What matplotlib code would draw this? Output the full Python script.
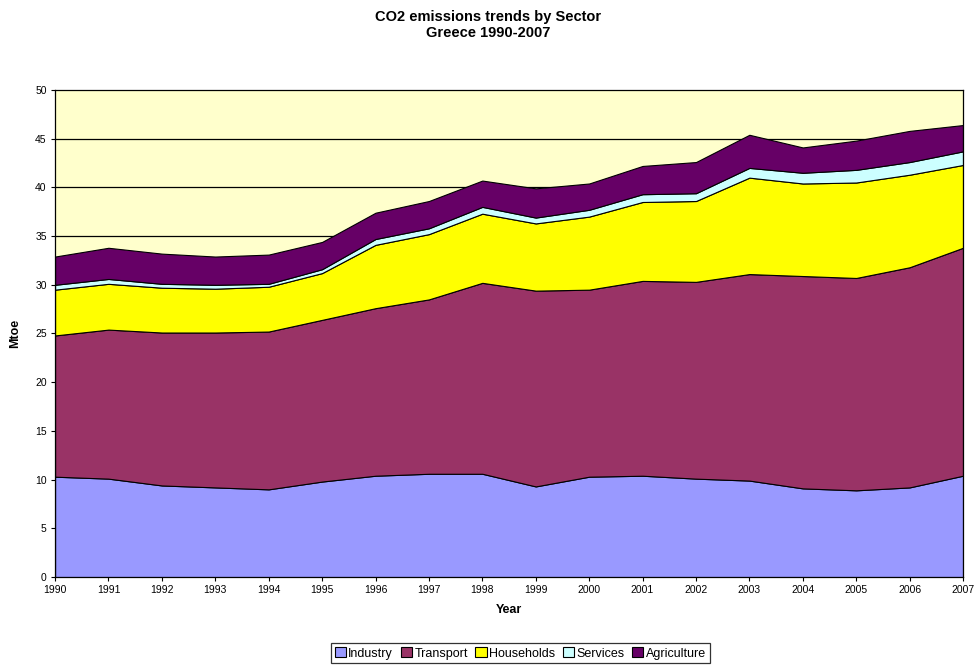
import numpy as np
import matplotlib.pyplot as plt

plt.rcParams['font.family'] = ['Liberation Sans', 'DejaVu Sans']

# Years and cumulative tops, converted to per-sector values
years = list(range(1990, 2008))
industry_top = [10.3, 10.1, 9.4, 9.2, 9.0, 9.8, 10.4, 10.6, 10.6, 9.3, 10.3, 10.4, 10.1, 9.9, 9.1, 8.9, 9.2, 10.4]
transport_top = [24.8, 25.4, 25.1, 25.1, 25.2, 26.4, 27.6, 28.5, 30.2, 29.4, 29.5, 30.4, 30.3, 31.1, 30.9, 30.7, 31.8, 33.8]
households_top = [29.5, 30.1, 29.7, 29.6, 29.8, 31.2, 34.1, 35.2, 37.3, 36.3, 37.0, 38.5, 38.6, 41.0, 40.4, 40.5, 41.3, 42.3]
services_top = [30.0, 30.6, 30.1, 30.0, 30.1, 31.6, 34.7, 35.8, 38.0, 36.9, 37.7, 39.3, 39.4, 42.0, 41.5, 41.8, 42.6, 43.7]
agriculture_top = [32.9, 33.8, 33.2, 32.9, 33.1, 34.4, 37.4, 38.6, 40.7, 39.9, 40.4, 42.2, 42.6, 45.4, 44.1, 44.8, 45.8, 46.4]

sectors = ['Industry', 'Transport', 'Households', 'Services', 'Agriculture']
colors = ['#9999FF', '#993366', '#FFFF00', '#CCFFFF', '#660066']

tops = np.array([industry_top, transport_top, households_top, services_top, agriculture_top])
values = np.diff(np.vstack([np.zeros(len(years)), tops]), axis=0)

fig = plt.figure(figsize=(9.76, 6.66), dpi=100)
ax = fig.add_axes([0.0564, 0.1336, 0.9303, 0.7313])
ax.set_facecolor('#FFFFCC')

# gridlines behind the areas
for y in range(5, 50, 5):
    ax.axhline(y, color='black', linewidth=0.9, zorder=0)

ax.stackplot(years, values, labels=sectors, colors=colors,
             edgecolor='black', linewidth=0.8, zorder=2)

ax.set_xlim(1990, 2007)
ax.set_ylim(0, 50)
ax.set_xticks(years)
ax.set_yticks(range(0, 51, 5))
ax.tick_params(labelsize=7.5, length=3, width=0.8, color='black', pad=3)
for s in ax.spines.values():
    s.set_linewidth(0.9)
    s.set_zorder(3)

ax.set_xlabel('Year', fontsize=9, fontweight='bold', labelpad=6)
ax.set_ylabel('Mtoe', fontsize=9, fontweight='bold', labelpad=10)

fig.suptitle('CO2 emissions trends by Sector\nGreece 1990-2007',
             fontsize=10.5, fontweight='bold', y=0.985)

leg = fig.legend(loc='lower center', bbox_to_anchor=(0.533, 0.004), ncol=5,
                 fontsize=9, frameon=True, fancybox=False, edgecolor='black',
                 handlelength=0.9, handleheight=0.9, handletextpad=0.2,
                 columnspacing=0.6, borderpad=0.3, borderaxespad=0)
leg.get_frame().set_linewidth(0.9)

fig.savefig('out.png', dpi=100)
